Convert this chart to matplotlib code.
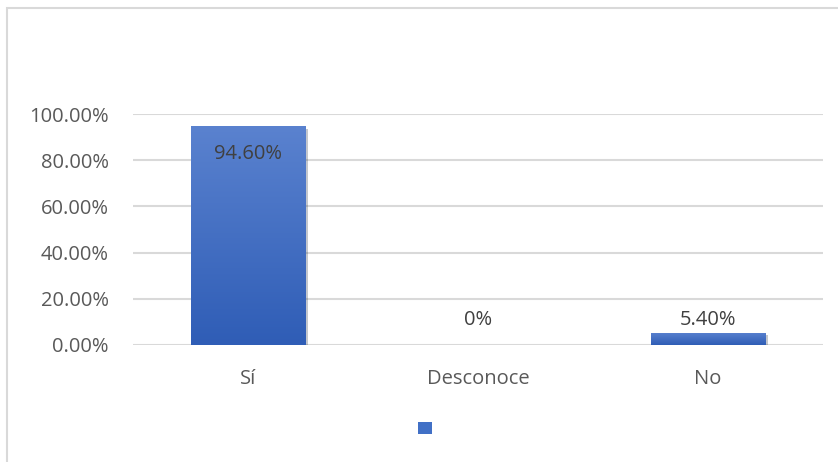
import matplotlib
matplotlib.use("Agg")
import matplotlib.pyplot as plt
import matplotlib.patheffects as pe
import numpy as np
from matplotlib.patches import Patch, Rectangle
from matplotlib.ticker import FuncFormatter
from matplotlib.colors import LinearSegmentedColormap

categories = ["Sí", "Desconoce", "No"]
values = [94.60, 0.0, 5.40]
value_labels = ["94.60%", "0%", "5.40%"]
ytick_values = [0, 20, 40, 60, 80, 100]

plt.rcParams["font.family"] = ["Open Sans", "DejaVu Sans"]

fig = plt.figure(figsize=(8.38, 4.62), dpi=100)
W, H = 838, 462
ax = fig.add_axes([133 / W, 1 - 345 / H, 690 / W, 231 / H])

# chart outer border
fig.patches.append(Rectangle((7 / W, -0.1), 1.2, 1 - 8 / H + 0.1,
                             transform=fig.transFigure, fill=False,
                             edgecolor="#d9d9d9", linewidth=1.5, zorder=0))

grad = LinearSegmentedColormap.from_list("bar", ["#2f5db6", "#5a82cf"])
x = np.arange(len(categories))
bars = ax.bar(x, values, width=0.5, color="#4472c4", zorder=3,
              path_effects=[pe.SimplePatchShadow(offset=(1.5, -1.5), alpha=0.25),
                            pe.Normal()])
g = np.linspace(0, 1, 256).reshape(-1, 1)
for b in bars:
    h = b.get_height()
    if h <= 0:
        continue
    im = ax.imshow(g, cmap=grad, origin="lower", aspect="auto",
                   extent=(b.get_x(), b.get_x() + b.get_width(), 0, h), zorder=4)
    im.set_clip_path(b)

ax.set_xlim(-0.5, len(categories) - 0.5)
ax.set_ylim(0, 100)
ax.set_yticks(ytick_values)
ax.yaxis.set_major_formatter(FuncFormatter(lambda v, p: f"{v:.2f}%"))
ax.set_xticks(x)
ax.set_xticklabels(categories)
ax.grid(axis="y", color="#d9d9d9", linewidth=1.5, zorder=0)
ax.set_axisbelow(True)
for s in ax.spines.values():
    s.set_visible(False)
ax.tick_params(axis="both", length=0, labelsize=14.5, colors="#595959")
ax.tick_params(axis="y", pad=17.5)
ax.tick_params(axis="x", pad=17)

# data labels
offsets = [-20, 18, 9]
for xi, v, lab, off in zip(x, values, value_labels, offsets):
    ax.annotate(lab, (xi, v), xytext=(0, off), textcoords="offset points",
                ha="center", va="center", fontsize=14.5, color="#404040", zorder=6)

fig.legend(handles=[Patch(facecolor="#4170c6", edgecolor="none")], labels=[""],
           loc="center", bbox_to_anchor=(425 / W, 1 - 429 / H), frameon=False,
           handlelength=1.0, handleheight=1.0, handletextpad=0, borderpad=0,
           fontsize=10)

fig.savefig("out.png", dpi=100)
